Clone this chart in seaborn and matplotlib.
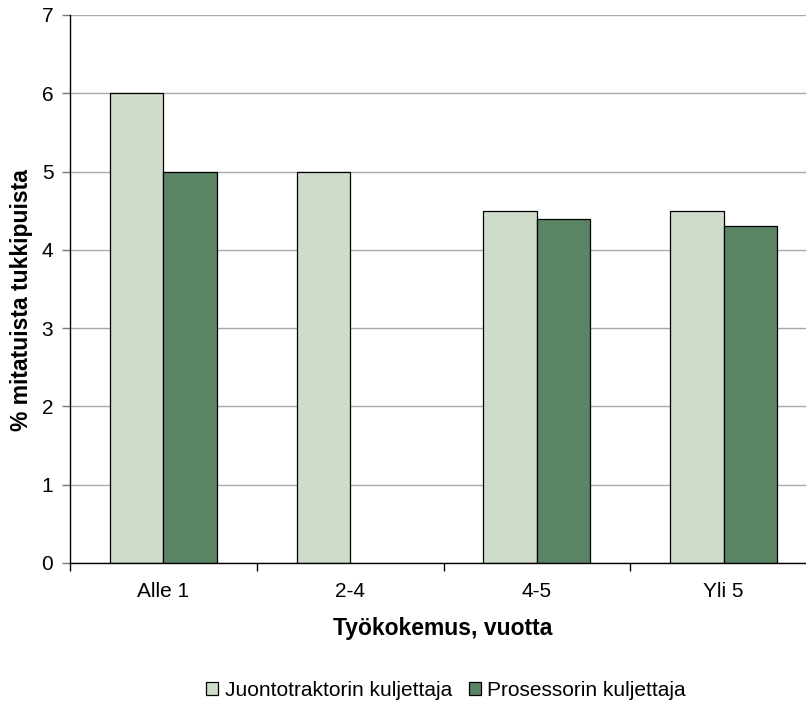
import numpy as np
import pandas as pd
import matplotlib
matplotlib.use("Agg")
import matplotlib.pyplot as plt
import seaborn as sns

categories = ["Alle 1", "2-4", "4-5", "Yli 5"]
juontotraktori = [6.0, 5.0, 4.5, 4.5]
prosessori = [5.0, np.nan, 4.4, 4.3]
series_names = ["Juontotraktorin kuljettaja", "Prosessorin kuljettaja"]
colors = ["#D0DCCA", "#5B8465"]

df = pd.DataFrame({
    "kokemus": categories * 2,
    "arvo": juontotraktori + prosessori,
    "kuljettaja": [series_names[0]] * 4 + [series_names[1]] * 4,
})

sns.set_style("white")
plt.rcParams["font.family"] = ["Liberation Sans", "DejaVu Sans"]
plt.rcParams["text.color"] = "black"
plt.rcParams["axes.labelcolor"] = "black"

fig = plt.figure(figsize=(8.06, 7.06), dpi=100)
ax = fig.add_axes([70 / 806, 1 - 563 / 706, 747 / 806, 548 / 706])

sns.barplot(data=df, x="kokemus", y="arvo", hue="kuljettaja", order=categories,
            hue_order=series_names, palette=colors, saturation=1, width=0.572,
            dodge=True, edgecolor="black", linewidth=0.9, errorbar=None, ax=ax,
            zorder=3)

ax.set_xlim(-0.5, 3.5)
ax.set_ylim(0, 7)
ax.set_yticks(range(0, 8))
ax.grid(axis="y", color="#a8a8a8", linewidth=1.0, zorder=0)
ax.set_axisbelow(True)

for s in ["top", "right"]:
    ax.spines[s].set_visible(False)
for s in ["left", "bottom"]:
    ax.spines[s].set_color("black")
    ax.spines[s].set_linewidth(1.0)
    ax.spines[s].set_zorder(4)

ax.tick_params(axis="y", which="major", left=True, length=6, width=1, color="#777777",
               labelcolor="black", labelsize=15, pad=6, direction="out")
ax.tick_params(axis="x", which="major", bottom=False, length=0, labelcolor="black",
               labelsize=15, pad=14)
ax.set_xticks([-0.5, 0.5, 1.5, 2.5], minor=True)
ax.tick_params(axis="x", which="minor", bottom=True, length=6, width=1, color="black",
               direction="out")

ax.set_xlabel("Työkokemus, vuotta", fontsize=16.5, fontweight="bold", color="black")
ax.xaxis.set_label_coords(0.4993, -0.0985)
ax.set_ylabel("% mitatuista tukkipuista", fontsize=16.5, fontweight="bold", color="black")
ax.yaxis.set_label_coords(-37 / 747, 0.48)

ax.legend_.remove()
handles = [plt.Rectangle((0, 0), 1, 1, facecolor=c, edgecolor="black", linewidth=0.9)
           for c in colors]
leg = fig.legend(handles, series_names, loc="center",
                 bbox_to_anchor=(446 / 806, 1 - 690 / 706), ncol=2, frameon=False,
                 fontsize=15, handlelength=0.6, handleheight=0.6, handletextpad=0.3,
                 columnspacing=0.8, borderaxespad=0)
for t in leg.get_texts():
    t.set_color("black")

fig.savefig("out.png", dpi=100)
